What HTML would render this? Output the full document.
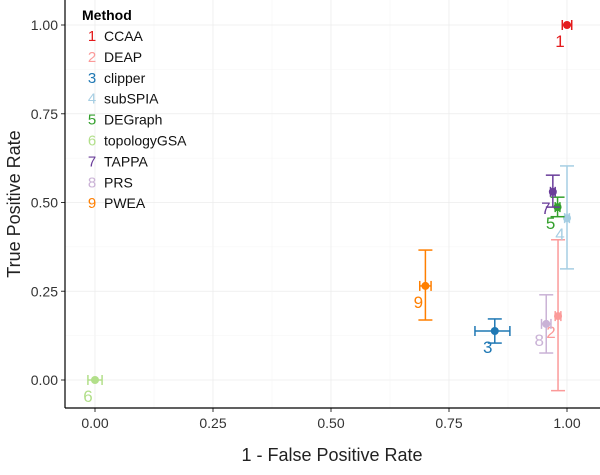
<!DOCTYPE html>
<html><head><meta charset="utf-8"><style>
body{margin:0;background:#fff;font-family:"Liberation Sans",sans-serif}
svg text{font-family:"Liberation Sans",sans-serif}
</style></head><body>
<svg id="chart" width="600" height="470">
<g id="grid"></g><g id="axes"></g><g id="marks"></g><g id="legend"></g>
</svg>
<script>
const methods=["CCAA","DEAP","clipper","subSPIA","DEGraph","topologyGSA","TAPPA","PRS","PWEA"];
const colors=["#e41a1c","#fb9a99","#1f78b4","#a6cee3","#33a02c","#b2df8a","#6a3d9a","#cab2d6","#ff7f00"];
const xVals=[1.0,0.981,0.847,1.0,0.98,0.0,0.97,0.956,0.70];
const yVals=[1.0,0.18,0.138,0.456,0.487,0.0,0.53,0.158,0.265];
const xLo=[0.99,0.975,0.805,0.995,0.975,-0.015,0.965,0.946,0.688];
const xHi=[1.01,0.987,0.879,1.005,0.985,0.015,0.975,0.966,0.712];
const yLo=[1.0,-0.03,0.104,0.313,0.46,0.0,0.487,0.076,0.169];
const yHi=[1.0,0.395,0.172,0.603,0.515,0.0,0.577,0.24,0.366];
const ticks=[0,0.25,0.5,0.75,1.0];
const tickLabels=["0.00","0.25","0.50","0.75","1.00"];
const NS="http://www.w3.org/2000/svg";
const X=v=>95+v*472, Y=v=>380-v*355;
function mk(tag,attrs,parent,text){const e=document.createElementNS(NS,tag);for(const k in attrs)e.setAttribute(k,attrs[k]);if(text!==undefined)e.textContent=text;parent.appendChild(e);return e;}
const grid=document.getElementById('grid'),axes=document.getElementById('axes'),marks=document.getElementById('marks'),legend=document.getElementById('legend');
for(let i=0;i<ticks.length;i++){
  let g=mk('line',{x1:X(ticks[i]),x2:X(ticks[i]),y1:0,y2:408,stroke:'#ececec','stroke-width':0.8},grid);
  
  g=mk('line',{x1:65,x2:600,y1:Y(ticks[i]),y2:Y(ticks[i]),stroke:'#ececec','stroke-width':0.8},grid);
  
  if(i<ticks.length-1){
    let m=(ticks[i]+ticks[i+1])/2;
    g=mk('line',{x1:X(m),x2:X(m),y1:0,y2:408,stroke:'#f5f5f5','stroke-width':0.6},grid);
    
    g=mk('line',{x1:65,x2:600,y1:Y(m),y2:Y(m),stroke:'#f5f5f5','stroke-width':0.6},grid);
    
  }
  let t=mk('line',{x1:X(ticks[i]),x2:X(ticks[i]),y1:408,y2:412,stroke:'#333'},axes);
  
  t=mk('text',{x:X(ticks[i]),y:428,'text-anchor':'middle','font-size':14,fill:'#333'},axes,tickLabels[i]);
  
  t=mk('line',{x1:61,x2:65,y1:Y(ticks[i]),y2:Y(ticks[i]),stroke:'#333'},axes);
  
  t=mk('text',{x:58,y:Y(ticks[i])+5,'text-anchor':'end','font-size':14,fill:'#333'},axes,tickLabels[i]);
  
}
let a=mk('line',{x1:65,x2:65,y1:0,y2:408,stroke:'#000','stroke-width':1.2},axes);

a=mk('line',{x1:65,x2:600,y1:408,y2:408,stroke:'#000','stroke-width':1.2},axes);

a=mk('text',{x:332,y:461,'text-anchor':'middle','font-size':18,fill:'#222'},axes,"1 - False Positive Rate");

a=mk('text',{x:0,y:0,'text-anchor':'middle','font-size':18,fill:'#222',transform:'translate(20,204) rotate(-90)'},axes,"True Positive Rate");

for(let i=0;i<methods.length;i++){
  const c=colors[i],x=X(xVals[i]),y=Y(yVals[i]);
  const g=mk('g',{},marks);
  
  
  if(yHi[i]>yLo[i]){
    mk('line',{x1:x,x2:x,y1:Y(yHi[i]),y2:Y(yLo[i]),stroke:c,'stroke-width':1.5},g);
    mk('line',{x1:x-7,x2:x+7,y1:Y(yHi[i]),y2:Y(yHi[i]),stroke:c,'stroke-width':1.5},g);
    mk('line',{x1:x-7,x2:x+7,y1:Y(yLo[i]),y2:Y(yLo[i]),stroke:c,'stroke-width':1.5},g);
  }
  if(xHi[i]>xLo[i]){
    mk('line',{x1:X(xLo[i]),x2:X(xHi[i]),y1:y,y2:y,stroke:c,'stroke-width':1.5},g);
    mk('line',{x1:X(xLo[i]),x2:X(xLo[i]),y1:y-5,y2:y+5,stroke:c,'stroke-width':1.5},g);
    mk('line',{x1:X(xHi[i]),x2:X(xHi[i]),y1:y-5,y2:y+5,stroke:c,'stroke-width':1.5},g);
  }
  mk('circle',{cx:x,cy:y,r:4,fill:c},g);
  const l=mk('text',{x:x-7,y:y+22,'text-anchor':'middle','font-size':17,fill:c},marks,String(i+1));
  
}
let lt=mk('text',{x:82,y:20,'font-size':14,'font-weight':'bold',fill:'#000'},legend,"Method");

for(let i=0;i<methods.length;i++){
  const g=mk('g',{},legend);
  
  
  const y=41+i*20.9;
  mk('text',{x:92,y:y,'text-anchor':'middle','font-size':15,fill:colors[i]},g,String(i+1));
  mk('text',{x:104,y:y,'font-size':14,fill:'#111'},g,methods[i]);
}
</script>
</body></html>
